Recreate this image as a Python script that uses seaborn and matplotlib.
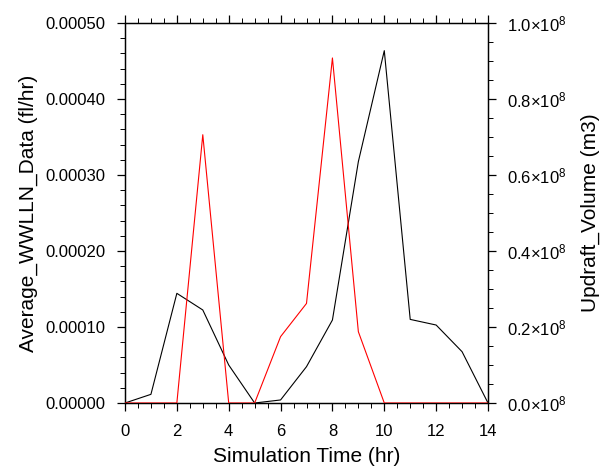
import matplotlib
matplotlib.use("Agg")
import matplotlib.pyplot as plt
import seaborn as sns
import pandas as pd
import numpy as np
from matplotlib.ticker import MultipleLocator, FixedLocator, FuncFormatter

sns.set_style("ticks")
plt.rcParams['font.family'] = ['Liberation Sans', 'DejaVu Sans']
plt.rcParams['mathtext.fontset'] = 'custom'
plt.rcParams['mathtext.rm'] = 'Liberation Sans'
plt.rcParams['mathtext.it'] = 'Liberation Sans:italic'
plt.rcParams['text.color'] = 'black'
plt.rcParams['axes.labelcolor'] = 'black'
plt.rcParams['xtick.color'] = 'black'
plt.rcParams['ytick.color'] = 'black'

hours = [0, 1, 2, 3, 4, 5, 6, 7, 8, 9, 10, 11, 12, 13, 14]
wwlln = [0, 0, 0, 0.000353, 0, 0, 0.0000873, 0.000131, 0.000454, 0.0000938, 0, 0, 0, 0, 0]
updraft = [0, 0.0228e8, 0.2886e8, 0.2448e8, 0.100e8, 0, 0.008e8, 0.0956e8, 0.2184e8,
           0.6352e8, 0.9272e8, 0.2200e8, 0.2052e8, 0.1350e8, 0]

df = pd.DataFrame({"hours": hours, "wwlln": wwlln, "updraft": updraft})

fig = plt.figure(figsize=(6.02, 4.71), dpi=100)
ax = fig.add_axes([125/602, 1-403/471, (488-125)/602, (403-23)/471])
ax2 = ax.twinx()

sns.lineplot(data=df, x="hours", y="updraft", ax=ax2, color="black", linewidth=0.8)
sns.lineplot(data=df, x="hours", y="wwlln", ax=ax, color="red", linewidth=0.8, zorder=5)
ax.set_zorder(ax2.get_zorder() + 1)
ax.patch.set_visible(False)

ax.set_xlim(0, 14)
ax.set_ylim(0, 0.0005)
ax2.set_ylim(0, 1.0e8)

ax.xaxis.set_major_locator(MultipleLocator(2))
ax.xaxis.set_minor_locator(MultipleLocator(0.5))
ax.yaxis.set_major_locator(MultipleLocator(0.0001))
ax.yaxis.set_minor_locator(MultipleLocator(0.00002))
ax.yaxis.set_major_formatter(FuncFormatter(lambda v, p: f"{v:.5f}"))
ax2.yaxis.set_major_locator(MultipleLocator(0.2e8))
ax2.yaxis.set_minor_locator(MultipleLocator(0.05e8))
ax2.yaxis.set_major_formatter(FuncFormatter(
    lambda v, p: r"$\mathregular{%.1f{\times}10^{8}}$" % (v / 1e8)))

for a in (ax, ax2):
    for s in a.spines.values():
        s.set_visible(True)
        s.set_linewidth(0.9)
        s.set_color("black")

ax.tick_params(axis="x", which="both", direction="out", top=True, bottom=True,
               labelsize=12, pad=9, color="black", labelcolor="black")
ax.tick_params(axis="x", which="major", length=6, width=0.9)
ax.tick_params(axis="x", which="minor", length=3.5, width=0.7)
ax.tick_params(axis="y", which="both", direction="out", labelsize=12, pad=8,
               color="black", labelcolor="black")
ax.tick_params(axis="y", which="major", length=6, width=0.9)
ax.tick_params(axis="y", which="minor", length=3.5, width=0.7)
ax2.tick_params(axis="y", which="both", direction="out", labelsize=12, pad=8,
                color="black", labelcolor="black")
ax2.tick_params(axis="y", which="major", length=6, width=0.9)
ax2.tick_params(axis="y", which="minor", length=3.5, width=0.7)

ax.set_xlabel("Simulation Time (hr)", fontsize=15, labelpad=6, color="black")
ax.set_ylabel("Average_WWLLN_Data (fl/hr)", fontsize=15, labelpad=5, color="black")
ax2.set_ylabel("Updraft_Volume (m3)", fontsize=15, labelpad=10, color="black")

fig.savefig("out.png", dpi=100)
